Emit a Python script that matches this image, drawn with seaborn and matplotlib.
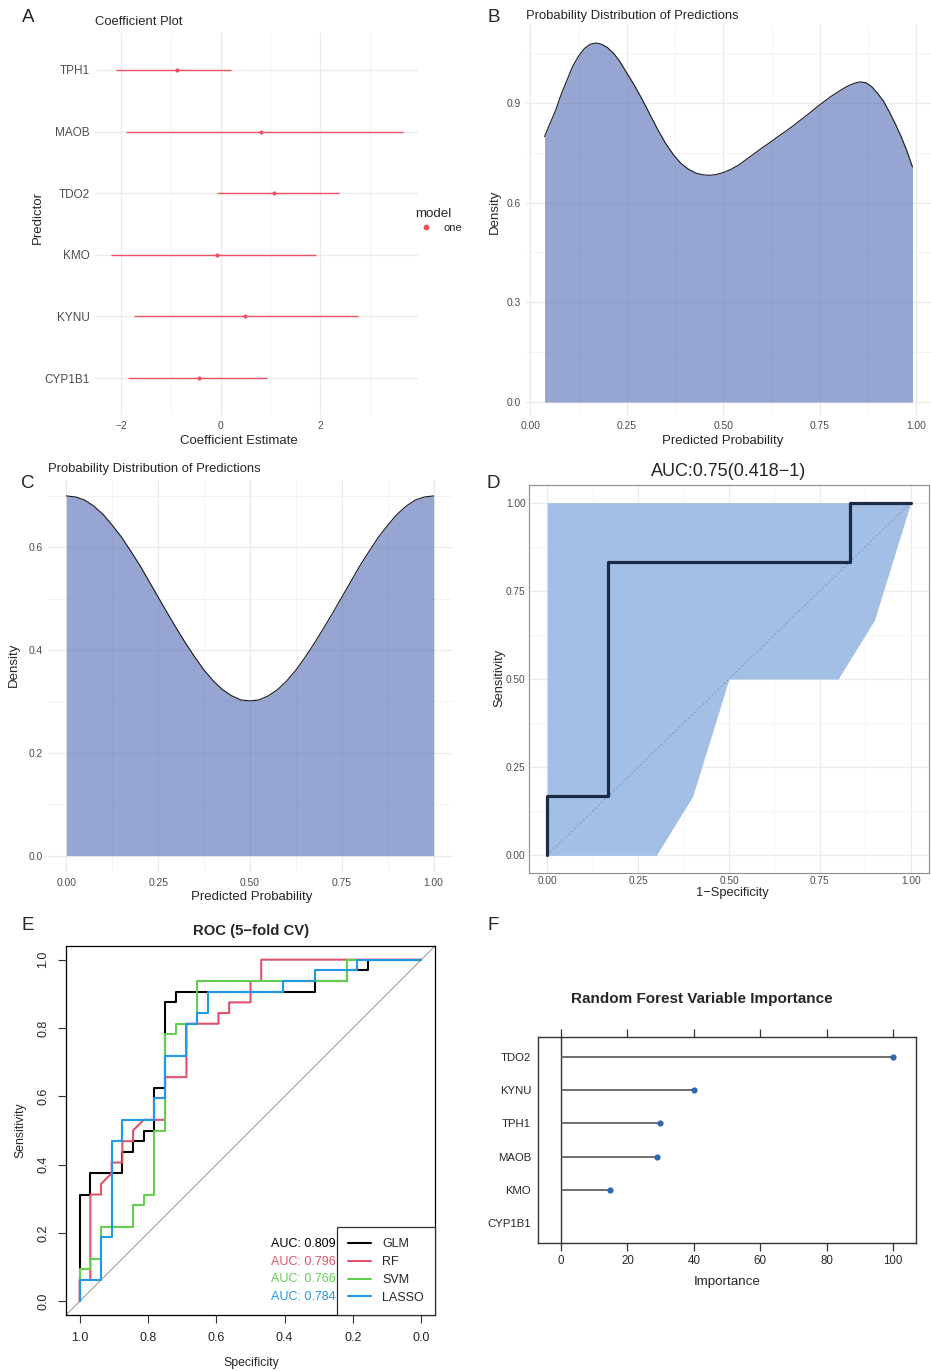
import numpy as np
import pandas as pd
import seaborn as sns
import matplotlib.pyplot as plt
from matplotlib.lines import Line2D

W, H = 931, 1371

# A: logistic coefficients with 95% CI
predictors = ['TPH1', 'MAOB', 'TDO2', 'KMO', 'KYNU', 'CYP1B1']
coef_est = [-0.87, 0.81, 1.08, -0.08, 0.48, -0.44]
coef_low = [-2.09, -1.90, -0.07, -2.20, -1.74, -1.85]
coef_high = [0.20, 3.66, 2.37, 1.91, 2.75, 0.93]

# B: density of predicted probabilities
dens_b_x = [0.037, 0.05, 0.065, 0.08, 0.095, 0.11, 0.125, 0.14, 0.155, 0.17,
            0.185, 0.20, 0.215, 0.23, 0.25, 0.27, 0.29, 0.31, 0.33, 0.35,
            0.37, 0.39, 0.41, 0.43, 0.45, 0.465, 0.48, 0.50, 0.52, 0.54,
            0.56, 0.58, 0.60, 0.62, 0.64, 0.66, 0.68, 0.70, 0.72, 0.74,
            0.76, 0.78, 0.80, 0.82, 0.84, 0.855, 0.87, 0.885, 0.90, 0.915,
            0.93, 0.945, 0.96, 0.975, 0.99]
dens_b_y = [0.798, 0.835, 0.875, 0.925, 0.968, 1.010, 1.040, 1.063, 1.076, 1.080,
            1.076, 1.066, 1.050, 1.028, 0.990, 0.952, 0.910, 0.865, 0.820, 0.779,
            0.745, 0.718, 0.700, 0.688, 0.683, 0.682, 0.684, 0.690, 0.700, 0.713,
            0.730, 0.747, 0.764, 0.780, 0.797, 0.813, 0.830, 0.848, 0.866, 0.885,
            0.903, 0.920, 0.935, 0.949, 0.959, 0.963, 0.960, 0.948, 0.928, 0.905,
            0.873, 0.838, 0.800, 0.757, 0.707]

# C: density of predicted probabilities
dens_c_x = [0.0, 0.025, 0.05, 0.075, 0.10, 0.125, 0.15, 0.175, 0.20, 0.225,
            0.25, 0.275, 0.30, 0.325, 0.35, 0.375, 0.40, 0.425, 0.45, 0.475,
            0.50, 0.525, 0.55, 0.575, 0.60, 0.625, 0.65, 0.675, 0.70, 0.725,
            0.75, 0.775, 0.80, 0.825, 0.85, 0.875, 0.90, 0.925, 0.95, 0.975, 1.0]
dens_c_y = [0.700, 0.698, 0.692, 0.680, 0.664, 0.643, 0.620, 0.593, 0.565, 0.534,
            0.503, 0.472, 0.442, 0.413, 0.386, 0.361, 0.340, 0.323, 0.311, 0.303,
            0.301, 0.303, 0.311, 0.323, 0.340, 0.361, 0.386, 0.413, 0.442, 0.472,
            0.503, 0.534, 0.565, 0.593, 0.620, 0.643, 0.664, 0.680, 0.692, 0.698, 0.700]

# D: ROC with CI band
roc_fpr = [0, 0, 0.167, 0.167, 0.833, 0.833, 1.0]
roc_tpr = [0, 0.167, 0.167, 0.833, 0.833, 1.0, 1.0]
ci_sens = [0, 0.167, 0.5, 0.5, 0.667, 1.0]
ci_fpr_low = [0, 0, 0, 0, 0, 0]
ci_fpr_high = [0.3, 0.4, 0.5, 0.8, 0.9, 1.0]

# E: cross-validated ROC curves, counts out of 32 negatives / 32 positives
n_neg, n_pos = 32, 32
glm_fp = [0, 0, 1, 1, 4, 4, 5, 5, 6, 6, 7, 7, 8, 8, 9, 9, 22, 22, 25, 25, 27, 27, 32]
glm_tp = [0, 10, 10, 12, 12, 14, 14, 15, 15, 16, 16, 20, 20, 28, 28, 29, 29, 30, 30, 31, 31, 32, 32]
rf_fp = [0, 0, 1, 1, 2, 2, 3, 3, 4, 4, 5, 5, 6, 8, 8, 10, 10, 13, 13, 14, 14, 16, 16, 17, 17, 32]
rf_tp = [0, 2, 2, 10, 10, 11, 12, 13, 13, 15, 15, 16, 17, 17, 21, 21, 26, 26, 27, 27, 28, 28, 30, 30, 32, 32]
svm_fp = [0, 0, 1, 1, 2, 2, 5, 5, 6, 6, 7, 7, 8, 8, 9, 9, 11, 11, 25, 25, 32]
svm_tp = [0, 3, 3, 4, 4, 7, 7, 9, 9, 10, 10, 16, 16, 25, 25, 26, 26, 30, 30, 32, 32]
lasso_fp = [0, 0, 2, 2, 3, 3, 4, 4, 7, 7, 8, 8, 10, 10, 11, 11, 12, 12, 19, 19, 22, 22, 26, 26, 32]
lasso_tp = [0, 2, 2, 6, 6, 15, 15, 17, 17, 19, 19, 23, 23, 26, 26, 27, 27, 29, 29, 30, 30, 31, 31, 32, 32]
model_names = ['GLM', 'RF', 'SVM', 'LASSO']
model_auc = ['AUC: 0.809', 'AUC: 0.796', 'AUC: 0.766', 'AUC: 0.784']
model_colors = ['black', '#DF536B', '#61D04F', '#2297E6']

# F: random forest importance
imp_vars = ['TDO2', 'KYNU', 'TPH1', 'MAOB', 'KMO', 'CYP1B1']
imp_vals = [100, 40, 29.7, 29.0, 14.9, 0]

sns.set_style('white')
plt.rcParams['font.family'] = ['Liberation Sans', 'DejaVu Sans']
plt.rcParams['axes.unicode_minus'] = True

RED = '#EE5262'
FILL = '#5069B5'
GRAY30 = '#4D4D4D'

fig = plt.figure(figsize=(W / 100, H / 100), dpi=100)


def px_axes(left, top, right, bottom):
    return fig.add_axes([left / W, 1 - bottom / H, (right - left) / W, (bottom - top) / H])


def px_text(x, y, s, **kw):
    kw.setdefault('ha', 'center')
    kw.setdefault('va', 'center')
    fig.text(x / W, 1 - y / H, s, **kw)


def gg_minimal(ax, xmajor, xminor, ymajor, yminor):
    ax.set_xticks(xmajor)
    ax.set_xticks(xminor, minor=True)
    ax.set_yticks(ymajor)
    ax.set_yticks(yminor, minor=True)
    ax.grid(which='major', color='#EBEBEB', lw=0.9)
    ax.grid(which='minor', color='#F1F1F1', lw=0.6)
    ax.set_axisbelow(True)
    for s in ax.spines.values():
        s.set_visible(False)
    ax.tick_params(which='both', length=0, labelsize=7.4, labelcolor=GRAY30, pad=4)
    ax.set_xlabel('')
    ax.set_ylabel('')


# ---------------- A ----------------
coef_df = pd.DataFrame({'predictor': predictors, 'estimate': coef_est,
                        'lower': coef_low, 'upper': coef_high, 'model': 'one'})
coef_df['ypos'] = np.arange(len(coef_df))
axA = px_axes(95, 33, 418, 415)
axA.hlines(coef_df['ypos'], coef_df['lower'], coef_df['upper'], color=RED, lw=1.0, zorder=2)
sns.scatterplot(data=coef_df, x='estimate', y='ypos', color=RED, s=9, linewidth=0,
                legend=False, ax=axA, zorder=3)
gg_minimal(axA, [-2, 0, 2], [-1, 1, 3], coef_df['ypos'], [])
axA.set_yticklabels(predictors, fontsize=8.5)
axA.set_xlim(-2.52, 3.96)
axA.set_ylim(5.6, -0.6)
leg = axA.legend(handles=[Line2D([], [], marker='o', ls='', color=RED, ms=3.2)], labels=['one'],
                 title='model', loc='upper left', frameon=False, fontsize=8,
                 title_fontsize=9.6, bbox_to_anchor=(405 / W, 1 - 198 / H),
                 bbox_transform=fig.transFigure, handletextpad=0.6, labelspacing=0.3)
leg._legend_box.align = 'left'
px_text(95, 22, 'Coefficient Plot', ha='left', fontsize=9.4)
px_text(239, 441, 'Coefficient Estimate', fontsize=9.5)
px_text(38, 217, 'Predictor', rotation=90, fontsize=9.5)

# ---------------- B ----------------
axB = px_axes(526, 25, 931, 415)
axB.fill_between(dens_b_x, dens_b_y, color=FILL, alpha=0.6, lw=0, zorder=2)
sns.lineplot(x=dens_b_x, y=dens_b_y, sort=False, estimator=None, color='#1A1A1A', lw=0.8,
             ax=axB, zorder=3)
gg_minimal(axB, [0, 0.25, 0.5, 0.75, 1.0], [0.125, 0.375, 0.625, 0.875],
           [0, 0.3, 0.6, 0.9], [0.15, 0.45, 0.75, 1.05])
axB.set_xticklabels(['0.00', '0.25', '0.50', '0.75', '1.00'])
axB.set_xlim(-0.011, 1.038)
axB.set_ylim(-0.039, 1.134)
px_text(526, 16, 'Probability Distribution of Predictions', ha='left', fontsize=9.4)
px_text(723, 441, 'Predicted Probability', fontsize=9.5)
px_text(495, 212, 'Density', rotation=90, fontsize=9.5)

# ---------------- C ----------------
axC = px_axes(48, 480, 452, 872)
axC.fill_between(dens_c_x, dens_c_y, color=FILL, alpha=0.6, lw=0, zorder=2)
sns.lineplot(x=dens_c_x, y=dens_c_y, sort=False, estimator=None, color='#1A1A1A', lw=0.8,
             ax=axC, zorder=3)
gg_minimal(axC, [0, 0.25, 0.5, 0.75, 1.0], [0.125, 0.375, 0.625, 0.875],
           [0, 0.2, 0.4, 0.6], [0.1, 0.3, 0.5, 0.7])
axC.set_xticklabels(['0.00', '0.25', '0.50', '0.75', '1.00'])
axC.set_xlim(-0.05, 1.05)
axC.set_ylim(-0.032, 0.731)
px_text(48, 469, 'Probability Distribution of Predictions', ha='left', fontsize=9.4)
px_text(252, 897, 'Predicted Probability', fontsize=9.5)
px_text(14, 665, 'Density', rotation=90, fontsize=9.5)

# ---------------- D ----------------
axD = px_axes(529, 485, 929, 873)
axD.fill_betweenx(ci_sens, ci_fpr_low, ci_fpr_high, color='#A4BFE6', lw=0, zorder=2)
axD.plot([0, 1], [0, 1], ls=(0, (3, 3)), color='#7A8AAA', lw=0.5, zorder=3)
sns.lineplot(x=roc_fpr, y=roc_tpr, sort=False, estimator=None, color='#1C2B45', lw=2.3,
             ax=axD, zorder=4)
axD.set_xticks([0, 0.25, 0.5, 0.75, 1.0])
axD.set_xticks([0.125, 0.375, 0.625, 0.875], minor=True)
axD.set_yticks([0, 0.25, 0.5, 0.75, 1.0])
axD.set_yticks([0.125, 0.375, 0.625, 0.875], minor=True)
axD.set_xticklabels(['0.00', '0.25', '0.50', '0.75', '1.00'])
axD.set_yticklabels(['0.00', '0.25', '0.50', '0.75', '1.00'])
axD.grid(which='major', color='#EBEBEB', lw=0.9)
axD.grid(which='minor', color='#F2F2F2', lw=0.6)
axD.set_axisbelow(True)
for s in axD.spines.values():
    s.set_color('#8C8C8C')
    s.set_linewidth(0.8)
axD.tick_params(which='major', length=2, width=0.6, color='#555555', labelsize=7.3,
                labelcolor=GRAY30, pad=0.5)
axD.tick_params(which='minor', length=0)
axD.set_xlim(-0.05, 1.05)
axD.set_ylim(-0.05, 1.05)
axD.set_xlabel('')
axD.set_ylabel('')
px_text(729, 472, 'AUC:0.75(0.418\u22121)', fontsize=13)
px_text(732, 893, '1\u2212Specificity', fontsize=9.3)
px_text(499, 678, 'Sensitivity', rotation=90, fontsize=9.3)

# ---------------- E ----------------
roc_parts = []
for name, fp, tp in zip(model_names, [glm_fp, rf_fp, svm_fp, lasso_fp],
                        [glm_tp, rf_tp, svm_tp, lasso_tp]):
    roc_parts.append(pd.DataFrame({'model': name,
                                   'specificity': 1 - np.array(fp) / n_neg,
                                   'sensitivity': np.array(tp) / n_pos}))
roc_df = pd.concat(roc_parts, ignore_index=True)

axE = px_axes(66, 946, 435, 1315)
axE.axline((1, 0), (0, 1), color='#A0A0A0', lw=0.8, zorder=1)
sns.lineplot(data=roc_df, x='specificity', y='sensitivity', hue='model',
             hue_order=model_names, palette=model_colors, sort=False, estimator=None,
             lw=1.5, legend=False, ax=axE, zorder=3)
axE.set_xlim(1.04, -0.04)
axE.set_ylim(-0.04, 1.04)
axE.set_xticks([1.0, 0.8, 0.6, 0.4, 0.2, 0.0])
axE.set_yticks([0.0, 0.2, 0.4, 0.6, 0.8, 1.0])
axE.set_xticklabels(['1.0', '0.8', '0.6', '0.4', '0.2', '0.0'])
axE.set_yticklabels(['0.0', '0.2', '0.4', '0.6', '0.8', '1.0'], rotation=90, va='center')
for s in axE.spines.values():
    s.set_color('black')
    s.set_linewidth(0.9)
axE.tick_params(length=6, width=0.8, color='#333333', labelsize=9, pad=6, left=True, bottom=True)
axE.set_xlabel('')
axE.set_ylabel('')
handles = [Line2D([], [], color=c, lw=1.5) for c in model_colors]
legE = axE.legend(handles, model_names, loc='lower right', borderaxespad=0, fontsize=9,
                  frameon=True, fancybox=False, edgecolor='#333333', framealpha=1,
                  handlelength=1.85, handletextpad=0.85, labelspacing=0.47, borderpad=0.9)
legE.get_frame().set_linewidth(0.9)
for i, (txt, c) in enumerate(zip(model_auc, model_colors)):
    axE.text(0.251, 0.168 - i * 0.052, txt, color=c, fontsize=9, ha='right', va='center')
px_text(251, 931, 'ROC (5\u2212fold CV)', fontsize=10.7, fontweight='bold')
px_text(251, 1363, 'Specificity', fontsize=8.8)
px_text(20, 1130, 'Sensitivity', rotation=90, fontsize=8.8)

# ---------------- F ----------------
imp_df = pd.DataFrame({'variable': imp_vars, 'importance': imp_vals})
imp_df['ypos'] = np.arange(len(imp_df))
axF = px_axes(538, 1037, 916, 1243)
axF.axvline(0, color='#333333', lw=1.0, zorder=1)
axF.hlines(imp_df['ypos'], 0, imp_df['importance'], color='#555555', lw=1.2, zorder=2)
sns.scatterplot(data=imp_df[imp_df['importance'] > 0], x='importance', y='ypos',
                color='#2F67B1', s=20, linewidth=0, legend=False, ax=axF, zorder=3)
axF.set_xlim(-6.93, 106.9)
axF.set_ylim(5.6, -0.6)
axF.set_xticks([0, 20, 40, 60, 80, 100])
axF.set_yticks(imp_df['ypos'])
axF.set_yticklabels(imp_vars)
for s in axF.spines.values():
    s.set_color('#333333')
    s.set_linewidth(1.0)
axF.tick_params(axis='x', which='major', length=6, width=0.9, color='#333333', labelsize=8.3,
                top=True, bottom=True, labeltop=False, pad=3)
axF.tick_params(axis='y', length=0, labelsize=8.2, pad=5)
axF.set_xlabel('')
axF.set_ylabel('')
px_text(702, 999, 'Random Forest Variable Importance', fontsize=11, fontweight='bold')
px_text(727, 1282, 'Importance', fontsize=9.6)

# panel letters
for letter, x, y in [('A', 28, 18), ('B', 494, 17), ('C', 28, 483), ('D', 493, 483),
                     ('E', 28, 926), ('F', 493, 926)]:
    px_text(x, y, letter, fontsize=13.5)

fig.savefig('out.png', dpi=100, facecolor='white')
